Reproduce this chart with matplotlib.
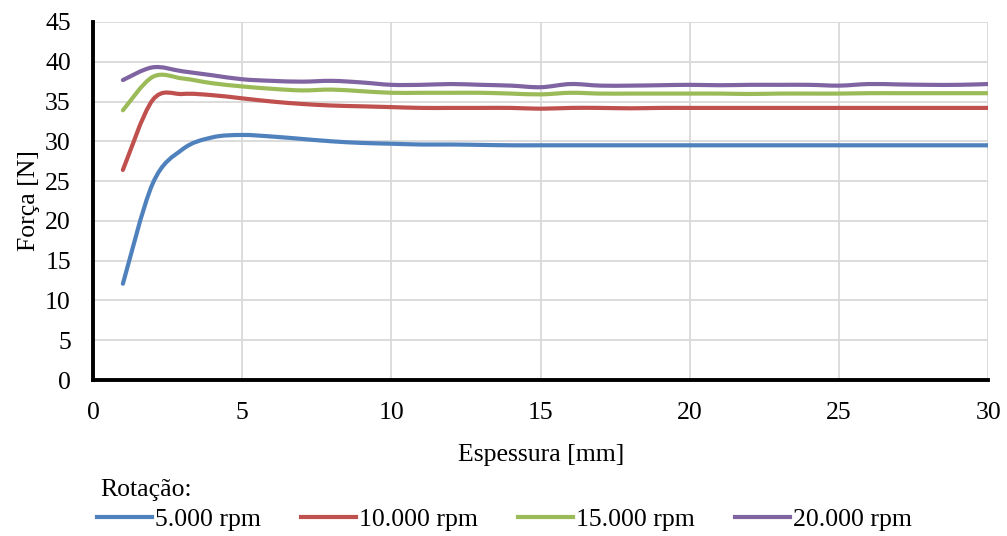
import matplotlib

matplotlib.use("Agg")
import matplotlib.pyplot as plt
import numpy as np
from matplotlib.lines import Line2D
from matplotlib.patches import PathPatch
from matplotlib.path import Path

plt.rcParams["font.family"] = ["Liberation Serif", "DejaVu Serif"]

# Espessura [mm]
thickness = list(range(1, 31))

# Força [N] per rotation speed
force_5000 = [12.1, 24.7, 29.0, 30.5, 30.8, 30.6, 30.3, 30.0, 29.8, 29.7,
              29.6, 29.6, 29.55, 29.5, 29.5, 29.5, 29.5, 29.5, 29.5, 29.5,
              29.5, 29.5, 29.5, 29.5, 29.5, 29.5, 29.5, 29.5, 29.5, 29.5]
force_10000 = [26.4, 35.2, 35.95, 35.8, 35.4, 35.0, 34.7, 34.5, 34.4, 34.3,
               34.2, 34.2, 34.2, 34.2, 34.1, 34.2, 34.2, 34.15, 34.2, 34.2,
               34.2, 34.2, 34.2, 34.2, 34.2, 34.2, 34.2, 34.2, 34.2, 34.2]
force_15000 = [33.9, 38.1, 37.9, 37.3, 36.9, 36.6, 36.4, 36.5, 36.3, 36.1,
               36.1, 36.1, 36.1, 36.0, 35.9, 36.1, 36.0, 36.0, 36.0, 36.0,
               36.0, 35.95, 36.0, 36.0, 36.0, 36.05, 36.05, 36.05, 36.05, 36.05]
force_20000 = [37.7, 39.3, 38.8, 38.3, 37.8, 37.6, 37.5, 37.6, 37.4, 37.1,
               37.1, 37.2, 37.1, 37.0, 36.8, 37.2, 37.0, 37.0, 37.05, 37.1,
               37.05, 37.1, 37.1, 37.1, 37.0, 37.2, 37.15, 37.1, 37.1, 37.2]

series = [
    ("5.000 rpm", force_5000, "#4F81BD"),
    ("10.000 rpm", force_10000, "#C0504D"),
    ("15.000 rpm", force_15000, "#9BBB59"),
    ("20.000 rpm", force_20000, "#8064A2"),
]

FS = 18.5
LW = 3.0


def smooth_path(x, y):
    """Bezier path through the points, spreadsheet-style smoothed line."""
    p = np.column_stack([x, y]).astype(float)
    n = len(p)
    verts = [p[0]]
    codes = [Path.MOVETO]
    for i in range(n - 1):
        p0 = p[max(i - 1, 0)]
        p1 = p[i]
        p2 = p[i + 1]
        p3 = p[min(i + 2, n - 1)]
        c1 = p1 + (p2 - p0) / 6.0
        c2 = p2 - (p3 - p1) / 6.0
        verts += [c1, c2, p2]
        codes += [Path.CURVE4] * 3
    return Path(verts, codes)


fig = plt.figure(figsize=(10.07, 5.36), dpi=100)
ax = fig.add_axes([0.0924, 0.291, 0.889, 0.668])

for label, vals, color in series:
    patch = PathPatch(smooth_path(thickness, vals), facecolor="none",
                      edgecolor=color, linewidth=LW, capstyle="round",
                      joinstyle="round", zorder=3)
    ax.add_patch(patch)

ax.set_xlim(0, 30)
ax.set_ylim(0, 45)
ax.set_xticks(range(0, 31, 5))
ax.set_yticks(range(0, 46, 5))
ax.grid(True, color="#D9D9D9", linewidth=1.3, zorder=0)
ax.set_axisbelow(True)

for side in ("top", "right"):
    ax.spines[side].set_visible(False)
for side in ("left", "bottom"):
    ax.spines[side].set_linewidth(2.8)
    ax.spines[side].set_color("black")
    ax.spines[side].set_zorder(4)

ax.tick_params(axis="both", length=0, labelsize=FS)
ax.tick_params(axis="x", pad=16)
ax.tick_params(axis="y", pad=16)

ax.set_xlabel("Espessura [mm]", fontsize=FS, labelpad=14)
ax.set_ylabel("Força [N]", fontsize=FS, labelpad=4)

# legend: caption on its own row, entries in one row below
fig.text(0.1, 0.086, "Rotação:", fontsize=FS, ha="left", va="center")
handles = [Line2D([], [], color=c, linewidth=LW, label=l) for l, _, c in series]
fig.legend(handles=handles, loc="center left", bbox_to_anchor=(0.0963, 0.030),
           ncol=4, frameon=False, fontsize=FS, handlelength=2.15,
           handletextpad=0.12, columnspacing=1.55, borderpad=0,
           borderaxespad=0)

fig.savefig("out.png", dpi=100)
